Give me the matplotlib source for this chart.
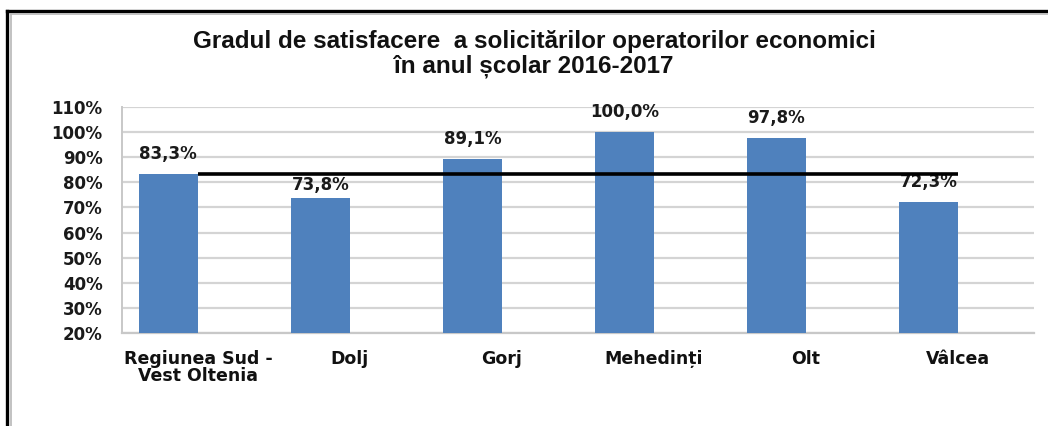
import matplotlib
matplotlib.use("Agg")
import matplotlib.pyplot as plt
from matplotlib.lines import Line2D
import numpy as np

categories = ["Regiunea Sud -\nVest Oltenia", "Dolj", "Gorj", "Mehedinți", "Olt", "Vâlcea"]
values = [83.3, 73.8, 89.1, 100.0, 97.8, 72.3]
average = 83.3
yticks = [20, 30, 40, 50, 60, 70, 80, 90, 100, 110]
title = "Gradul de satisfacere  a solicitărilor operatorilor economici\nîn anul școlar 2016-2017"

W, H = 1048, 426
fig = plt.figure(figsize=(W / 100, H / 100), dpi=100)
fig.patch.set_facecolor("white")

ax = fig.add_axes([122 / W, (H - 333) / H, (1034 - 122) / W, (333 - 107) / H])

x = np.arange(len(categories))
bw = 0.39
ax.bar(x - bw / 2, values, width=bw, color="#4F81BD", zorder=3, bottom=0)
ax.plot([x[0], x[-1]], [average, average], color="black", lw=2.6, zorder=4,
        solid_capstyle="butt")

ax.set_xlim(-0.5, len(categories) - 0.5)
ax.set_ylim(20, 110)
ax.set_yticks(yticks)
ax.set_yticklabels([f"{v}%" for v in yticks], fontsize=12, fontweight="bold",
                   family="DejaVu Sans", color="#1a1a1a")
ax.set_xticks(x)
ax.set_xticklabels(categories, fontsize=12.5, fontweight="bold",
                   family="DejaVu Sans", color="#111111", linespacing=0.95, va="top")
ax.tick_params(axis="x", length=0, pad=12)
ax.tick_params(axis="y", length=0, pad=14)

ax.grid(axis="y", color="#d4d4d4", lw=1.6, zorder=0)
ax.set_axisbelow(True)
for s in ["top", "right"]:
    ax.spines[s].set_visible(False)
ax.spines["left"].set_color("#c8c8c8")
ax.spines["left"].set_linewidth(1.4)
ax.spines["bottom"].set_color("#c8c8c8")
ax.spines["bottom"].set_linewidth(1.6)

for i, v in enumerate(values):
    off = 3 if i == 1 else 8
    ax.annotate(f"{v:.1f}%".replace(".", ","), (x[i] - bw / 2, v),
                xytext=(0, off), textcoords="offset points",
                ha="center", va="bottom", fontsize=12, fontweight="bold",
                family="DejaVu Sans", color="#1a1a1a")

fig.text(534 / W, 1 - 54 / H, title, ha="center", va="center",
         multialignment="center", fontsize=17.5, fontweight="bold",
         family="Liberation Sans", color="#111111", linespacing=1.12)

# outer frame (left and top)
fig.add_artist(Line2D([7 / W, 7 / W], [0, 1 - 11 / H], transform=fig.transFigure,
                      color="black", lw=2.4))
fig.add_artist(Line2D([7 / W, 1], [1 - 11 / H, 1 - 11 / H], transform=fig.transFigure,
                      color="black", lw=2.4))
fig.add_artist(Line2D([10.5 / W, 10.5 / W], [0, 1 - 14 / H], transform=fig.transFigure,
                      color="#b8b8b8", lw=1.2))
fig.add_artist(Line2D([10.5 / W, 1], [1 - 14 / H, 1 - 14 / H], transform=fig.transFigure,
                      color="#b8b8b8", lw=1.2))

fig.savefig("out.png", dpi=100, facecolor="white")
